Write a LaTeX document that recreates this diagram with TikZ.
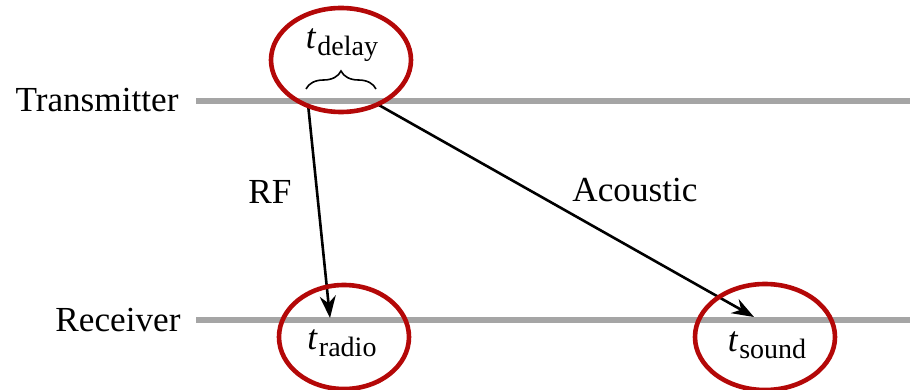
\documentclass[tikz,border=0pt]{standalone}
\usepackage{fontspec}
\setmainfont{Liberation Serif}
\usetikzlibrary{arrows.meta,shapes.geometric,decorations.pathreplacing}
\definecolor{ringred}{RGB}{180,8,8}
\definecolor{linegray}{RGB}{165,165,165}
\tikzset{
  timeline/.style={draw=linegray,line width=3pt},
  signal/.style={draw=black,line width=1.3pt,-{Stealth[length=11pt,width=8pt]}},
  ring/.style={ellipse,draw=ringred,line width=2.3pt,inner sep=0pt},
  lbl/.style={font=\rmfamily\fontsize{17.6}{20}\selectfont,inner sep=0pt}
}
\newcommand{\tsub}[1]{\textit{t}\kern0.5pt\raisebox{-0.45ex}{\fontsize{14}{16}\selectfont #1}}
\begin{document}
\begin{tikzpicture}[x=0.5pt,y=-0.5pt]
            \useasboundingbox (0,0) rectangle (910,390);
            \node[lbl] (tx) at (97,100) {Transmitter};
            \node[lbl] (rx) at (118,320) {Receiver};
            \coordinate (txa) at (196,101);
            \coordinate (txb) at (910,101);
            \coordinate (rxa) at (196,320);
            \coordinate (rxb) at (910,320);
            \draw[timeline] (txa) -- (txb);
            \draw[timeline] (rxa) -- (rxb);

            \coordinate (rfs) at (308,104);
            \coordinate (rfe) at (330,318);
            \coordinate (acs) at (377,104);
            \coordinate (ace) at (754,317);
            \draw[signal] (rfs) -- (rfe);
            \draw[signal] (acs) -- (ace);
            \node[lbl] (rf) at (270,192) {RF};
            \node[lbl] (ac) at (635,190) {Acoustic};

            \coordinate (bl) at (306,89);
            \coordinate (br) at (376,89);
            \draw[line width=0.8pt,decorate,decoration={brace,amplitude=9pt}] (bl) -- (br);
            \node[lbl] (delay) at (342,45) {\tsub{delay}};
            \node[lbl] (radio) at (342,343) {\tsub{radio}};
            \node[lbl] (sound) at (767,345) {\tsub{sound}};

            \node[ring,minimum width=70pt,minimum height=52pt] (ringd) at (341,60) {};
            \node[ring,minimum width=65pt,minimum height=52pt] (ringr) at (344,337) {};
            \node[ring,minimum width=70pt,minimum height=53pt] (rings) at (765,337) {};
        \end{tikzpicture}
\end{document}
